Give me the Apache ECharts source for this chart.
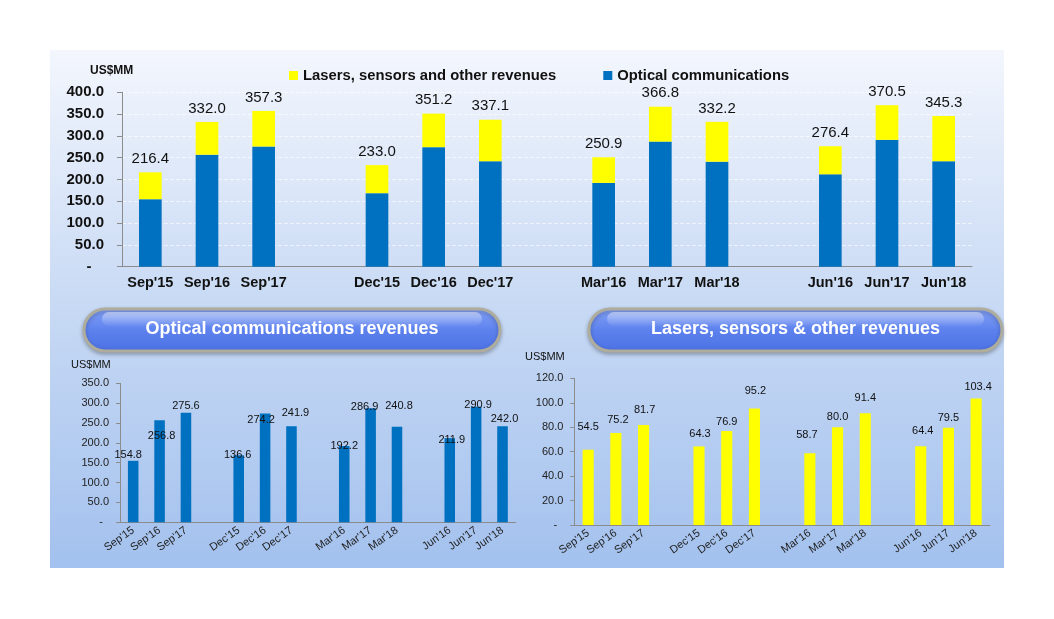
<!DOCTYPE html>
<html>
<head>
<meta charset="utf-8">
<script src="https://cdn.jsdelivr.net/npm/echarts@6/dist/echarts.min.js"></script>
<style>
  html, body { margin: 0; padding: 0; background: #fff; }
  #chart { width: 1054px; height: 619px; }
</style>
</head>
<body>
<div id="chart"></div>
<script>
// data
var periods = ["Sep'15", "Sep'16", "Sep'17", "Dec'15", "Dec'16", "Dec'17",
               "Mar'16", "Mar'17", "Mar'18", "Jun'16", "Jun'17", "Jun'18"];
var totals = [216.4, 332.0, 357.3, 233.0, 351.2, 337.1, 250.9, 366.8, 332.2, 276.4, 370.5, 345.3];
// bar heights as drawn
var optical = [154.8, 256.8, 275.6, 168.7, 274.2, 241.9, 192.2, 286.9, 240.8, 211.9, 290.9, 242.0];
var lasers = [61.6, 75.2, 81.7, 64.3, 76.9, 95.2, 58.7, 80.0, 91.4, 64.4, 79.5, 103.4];
// value labels as printed (two differ from the bars on the slide)
var opticalLabels = [154.8, 256.8, 275.6, 136.6, 274.2, 241.9, 192.2, 286.9, 240.8, 211.9, 290.9, 242.0];
var lasersLabels = [54.5, 75.2, 81.7, 64.3, 76.9, 95.2, 58.7, 80.0, 91.4, 64.4, 79.5, 103.4];

var FONT = 'Liberation Sans, Arial, sans-serif';
var BLUE = '#0070c0';
var YELLOW = '#ffff00';

// label nudges [dx, dy] so the small charts look like the slide
var opticalShift = [[-5, 0], [2, 21], [0, -1], [-1, 5], [-4, 12], [4, -8],
                    [0, 5], [-6, 4], [2, -15], [2, 7], [2, 4], [2, -2]];
var lasersShift = [[0, -17], [2, -8], [1, -10], [1, -7], [0, -4], [1, -12],
                   [-3, -13], [0, -5], [0, -10], [2, -10], [0, -4], [2, -6]];

// groups of three with an empty slot between them
function withGaps(arr, fill) {
    var out = [];
    arr.forEach(function(v, i) {
        out.push(v);
        if (i % 3 === 2 && i < arr.length - 1) out.push(fill);
    });
    return out;
}
function idxMap() {
    var m = [];
    periods.forEach(function(p, i) {
        m.push(i);
        if (i % 3 === 2 && i < periods.length - 1) m.push(-1);
    });
    return m;
}
var slotIdx = idxMap();
var cats = withGaps(periods, '');

function yFmt(pad) {
    return function(v) { return v === 0 ? '-' + pad : v.toFixed(1); };
}

function smallItems(values, shifts) {
    return slotIdx.map(function(i) {
        if (i < 0) return '-';
        return {
            value: values[i],
            label: { offset: shifts[i] }
        };
    });
}

function pill(x, y, w, h, text) {
    return {
        type: 'group',
        children: [
            {
                type: 'rect',
                shape: { x: x, y: y, width: w, height: h, r: h / 2 },
                style: {
                    fill: new echarts.graphic.LinearGradient(0, 0, 0, 1, [
                        { offset: 0, color: '#86a3f6' },
                        { offset: 0.5, color: '#5d82ee' },
                        { offset: 1, color: '#4b70e3' }
                    ]),
                    stroke: '#aeac9c',
                    lineWidth: 3,
                    shadowBlur: 4,
                    shadowOffsetY: 2,
                    shadowColor: 'rgba(0,0,0,0.25)'
                }
            },
            {
                type: 'rect',
                shape: { x: x + 18, y: y + 3, width: w - 36, height: 14, r: 7 },
                style: {
                    fill: new echarts.graphic.LinearGradient(0, 0, 0, 1, [
                        { offset: 0, color: 'rgba(255,255,255,0.45)' },
                        { offset: 1, color: 'rgba(255,255,255,0.03)' }
                    ])
                }
            },
            {
                type: 'text',
                x: x + w / 2,
                y: y + h / 2 - 1,
                style: {
                    text: text,
                    fill: '#ffffff',
                    font: 'bold 18px ' + FONT,
                    textAlign: 'center',
                    textVerticalAlign: 'middle'
                }
            }
        ]
    };
}

var chart = echarts.init(document.getElementById('chart'));

var option = {
    animation: false,
    textStyle: { fontFamily: FONT },
    graphic: [
        {
            type: 'rect',
            z: -10,
            shape: { x: 50, y: 50, width: 954, height: 518 },
            style: {
                fill: new echarts.graphic.LinearGradient(0, 0, 0, 1, [
                    { offset: 0, color: '#f3f6fd' },
                    { offset: 0.5, color: '#c7d9f4' },
                    { offset: 1, color: '#a3c1ee' }
                ])
            }
        },
        pill(84, 309, 416, 42, 'Optical communications revenues'),
        pill(589, 309, 413, 42, 'Lasers, sensors & other revenues'),
        { type: 'text', x: 90, y: 71, style: { text: 'US$MM', font: 'bold 12px ' + FONT, fill: '#111', textVerticalAlign: 'middle' } },
        { type: 'text', x: 71, y: 365, style: { text: 'US$MM', font: '11px ' + FONT, fill: '#111', textVerticalAlign: 'middle' } },
        { type: 'text', x: 525, y: 357, style: { text: 'US$MM', font: '11px ' + FONT, fill: '#111', textVerticalAlign: 'middle' } }
    ],
    legend: {
        data: ['Lasers, sensors and other revenues', 'Optical communications'],
        left: 284,
        top: 63,
        icon: 'rect',
        itemWidth: 9,
        itemHeight: 9,
        itemGap: 47,
        textStyle: { fontSize: 14.8, fontWeight: 'bold', color: '#111' }
    },
    grid: [
        { left: 122, top: 92.3, width: 850, height: 174.4 },
        { left: 120, top: 383.3, width: 395.7, height: 139 },
        { left: 574.3, top: 378.3, width: 415.7, height: 146.7 }
    ],
    xAxis: [0, 1, 2].map(function(g) {
        var top = g === 0;
        return {
            type: 'category',
            gridIndex: g,
            data: cats,
            axisLine: { lineStyle: { color: '#8c8c8c' } },
            axisTick: { length: 5, lineStyle: { color: '#8c8c8c' } },
            axisLabel: top
                ? { interval: 0, fontSize: 14.5, fontWeight: 'bold', color: '#111', margin: 9 }
                : { interval: 0, fontSize: 11, color: '#222', rotate: 35, margin: 7 }
        };
    }),
    yAxis: [
        {
            type: 'value', gridIndex: 0, min: 0, max: 400, interval: 50,
            axisLine: { show: true, lineStyle: { color: '#8c8c8c' } },
            axisTick: { show: true, length: 5, lineStyle: { color: '#8c8c8c' } },
            axisLabel: { fontSize: 15, fontWeight: 'bold', color: '#111', margin: 18, formatter: yFmt('   ') },
            splitLine: { lineStyle: { color: 'rgba(255,255,255,0.6)', type: 'dashed' } }
        },
        {
            type: 'value', gridIndex: 1, min: 0, max: 350, interval: 50,
            axisLine: { show: true, lineStyle: { color: '#8c8c8c' } },
            axisTick: { show: true, length: 4, lineStyle: { color: '#8c8c8c' } },
            axisLabel: { fontSize: 11, color: '#222', margin: 11, formatter: yFmt('  ') },
            splitLine: { show: false }
        },
        {
            type: 'value', gridIndex: 2, min: 0, max: 120, interval: 20,
            axisLine: { show: true, lineStyle: { color: '#8c8c8c' } },
            axisTick: { show: true, length: 4, lineStyle: { color: '#8c8c8c' } },
            axisLabel: { fontSize: 11, color: '#222', margin: 11, formatter: yFmt('  ') },
            splitLine: { show: false }
        }
    ],
    series: [
        {
            name: 'Optical communications',
            type: 'bar',
            stack: 'total',
            xAxisIndex: 0, yAxisIndex: 0,
            barWidth: '40%',
            itemStyle: { color: BLUE },
            data: withGaps(optical, '-')
        },
        {
            name: 'Lasers, sensors and other revenues',
            type: 'bar',
            stack: 'total',
            xAxisIndex: 0, yAxisIndex: 0,
            barWidth: '40%',
            itemStyle: { color: YELLOW },
            label: {
                show: true,
                position: 'top',
                distance: 6,
                fontSize: 15,
                color: '#111',
                formatter: function(p) {
                    var i = slotIdx[p.dataIndex];
                    return i < 0 ? '' : totals[i].toFixed(1);
                }
            },
            data: withGaps(lasers, '-')
        },
        {
            name: 'optical-small',
            type: 'bar',
            xAxisIndex: 1, yAxisIndex: 1,
            barWidth: '40%',
            itemStyle: { color: BLUE },
            label: {
                show: true,
                position: 'top',
                distance: 0,
                fontSize: 11,
                color: '#111',
                formatter: function(p) {
                    var i = slotIdx[p.dataIndex];
                    return i < 0 ? '' : opticalLabels[i].toFixed(1);
                }
            },
            data: smallItems(optical, opticalShift)
        },
        {
            name: 'lasers-small',
            type: 'bar',
            xAxisIndex: 2, yAxisIndex: 2,
            barWidth: '40%',
            itemStyle: { color: YELLOW },
            label: {
                show: true,
                position: 'top',
                distance: 0,
                fontSize: 11,
                color: '#111',
                formatter: function(p) {
                    var i = slotIdx[p.dataIndex];
                    return i < 0 ? '' : lasersLabels[i].toFixed(1);
                }
            },
            data: smallItems(lasers, lasersShift)
        }
    ]
};

chart.setOption(option);
</script>
</body>
</html>
